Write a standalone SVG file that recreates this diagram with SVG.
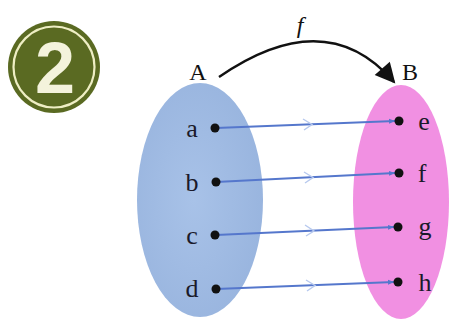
<svg xmlns="http://www.w3.org/2000/svg" width="476" height="320" viewBox="0 0 476 320">
<style>
.lbl{font-family:"Liberation Serif",serif;font-size:26px;fill:#1a1a2a;text-anchor:middle}
.set{font-family:"Liberation Serif",serif;font-size:24px;fill:#111;text-anchor:middle}
.dot{fill:#111}
.map{stroke:#5577cc;stroke-width:2.2;fill:none}
.chev{stroke:#b7c9ee;stroke-width:1.4;fill:none}
</style>
<defs>
<marker id="bh" viewBox="0 0 10 10" refX="10" refY="5" markerWidth="6" markerHeight="6" orient="auto" markerUnits="userSpaceOnUse">
<path d="M0,1 L10,5 L0,9 z" fill="#5577cc"/>
</marker>
<marker id="kh" viewBox="0 0 10 10" refX="9" refY="5" markerWidth="22" markerHeight="20" orient="auto" markerUnits="userSpaceOnUse">
<path d="M0,0 L10,5 L0,10 z" fill="#111"/>
</marker>
<radialGradient id="bg" cx="0.45" cy="0.5" r="0.6">
<stop offset="0" stop-color="#a8c2e8"/><stop offset="1" stop-color="#98b4de"/>
</radialGradient>
</defs>
<rect width="476" height="320" fill="#fff"/>
<g id="badge">
<circle cx="54" cy="67" r="46" fill="#5a6a22"/>
<circle cx="54" cy="67" r="40.5" fill="none" stroke="#eeeec4" stroke-width="2.2"/>
<text x="55" y="93" font-family="Liberation Sans,sans-serif" font-weight="bold" font-size="72" fill="#f4f3dc" text-anchor="middle">2</text>
</g>
<g id="setA">
<ellipse cx="200" cy="200" rx="63" ry="117" fill="url(#bg)"/>
<text class="set" x="198" y="80">A</text>
</g>
<g id="setB">
<ellipse cx="401" cy="202" rx="48" ry="117" fill="#f190e2"/>
<text class="set" x="410" y="80">B</text>
</g>
<g id="connectors">
<path d="M219,77 Q326,3 394,82" fill="none" stroke="#111" stroke-width="2.4" marker-end="url(#kh)"/>
<path class="map" d="M216,128 L395,121" marker-end="url(#bh)"/>
<path class="map" d="M216,182 L395,173" marker-end="url(#bh)"/>
<path class="map" d="M216,235 L394,227" marker-end="url(#bh)"/>
<path class="map" d="M216,289 L394,282" marker-end="url(#bh)"/>
<path class="chev" d="M303,119 L312,124.5 L304,130"/>
<path class="chev" d="M304,172 L313,177.5 L305,183"/>
<path class="chev" d="M305,225 L314,231 L306,236"/>
<path class="chev" d="M306,280 L315,285.5 L307,291"/>
</g>
<g id="a"><circle class="dot" cx="215" cy="128" r="4.5"/><text class="lbl" x="192" y="137">a</text></g>
<g id="b"><circle class="dot" cx="216" cy="182" r="4.5"/><text class="lbl" x="192" y="191">b</text></g>
<g id="c"><circle class="dot" cx="215" cy="235" r="4.5"/><text class="lbl" x="192" y="244">c</text></g>
<g id="d"><circle class="dot" cx="216" cy="289" r="4.5"/><text class="lbl" x="192" y="297">d</text></g>
<g id="e"><circle class="dot" cx="399" cy="121" r="4.5"/><text class="lbl" x="424" y="130">e</text></g>
<g id="f"><circle class="dot" cx="399" cy="173" r="4.5"/><text class="lbl" x="422" y="182">f</text></g>
<g id="g"><circle class="dot" cx="398" cy="227" r="4.5"/><text class="lbl" x="425" y="235">g</text></g>
<g id="h"><circle class="dot" cx="398" cy="282" r="4.5"/><text class="lbl" x="425" y="291">h</text></g>
<text class="set" x="300" y="33" font-style="italic">f</text>
</svg>
